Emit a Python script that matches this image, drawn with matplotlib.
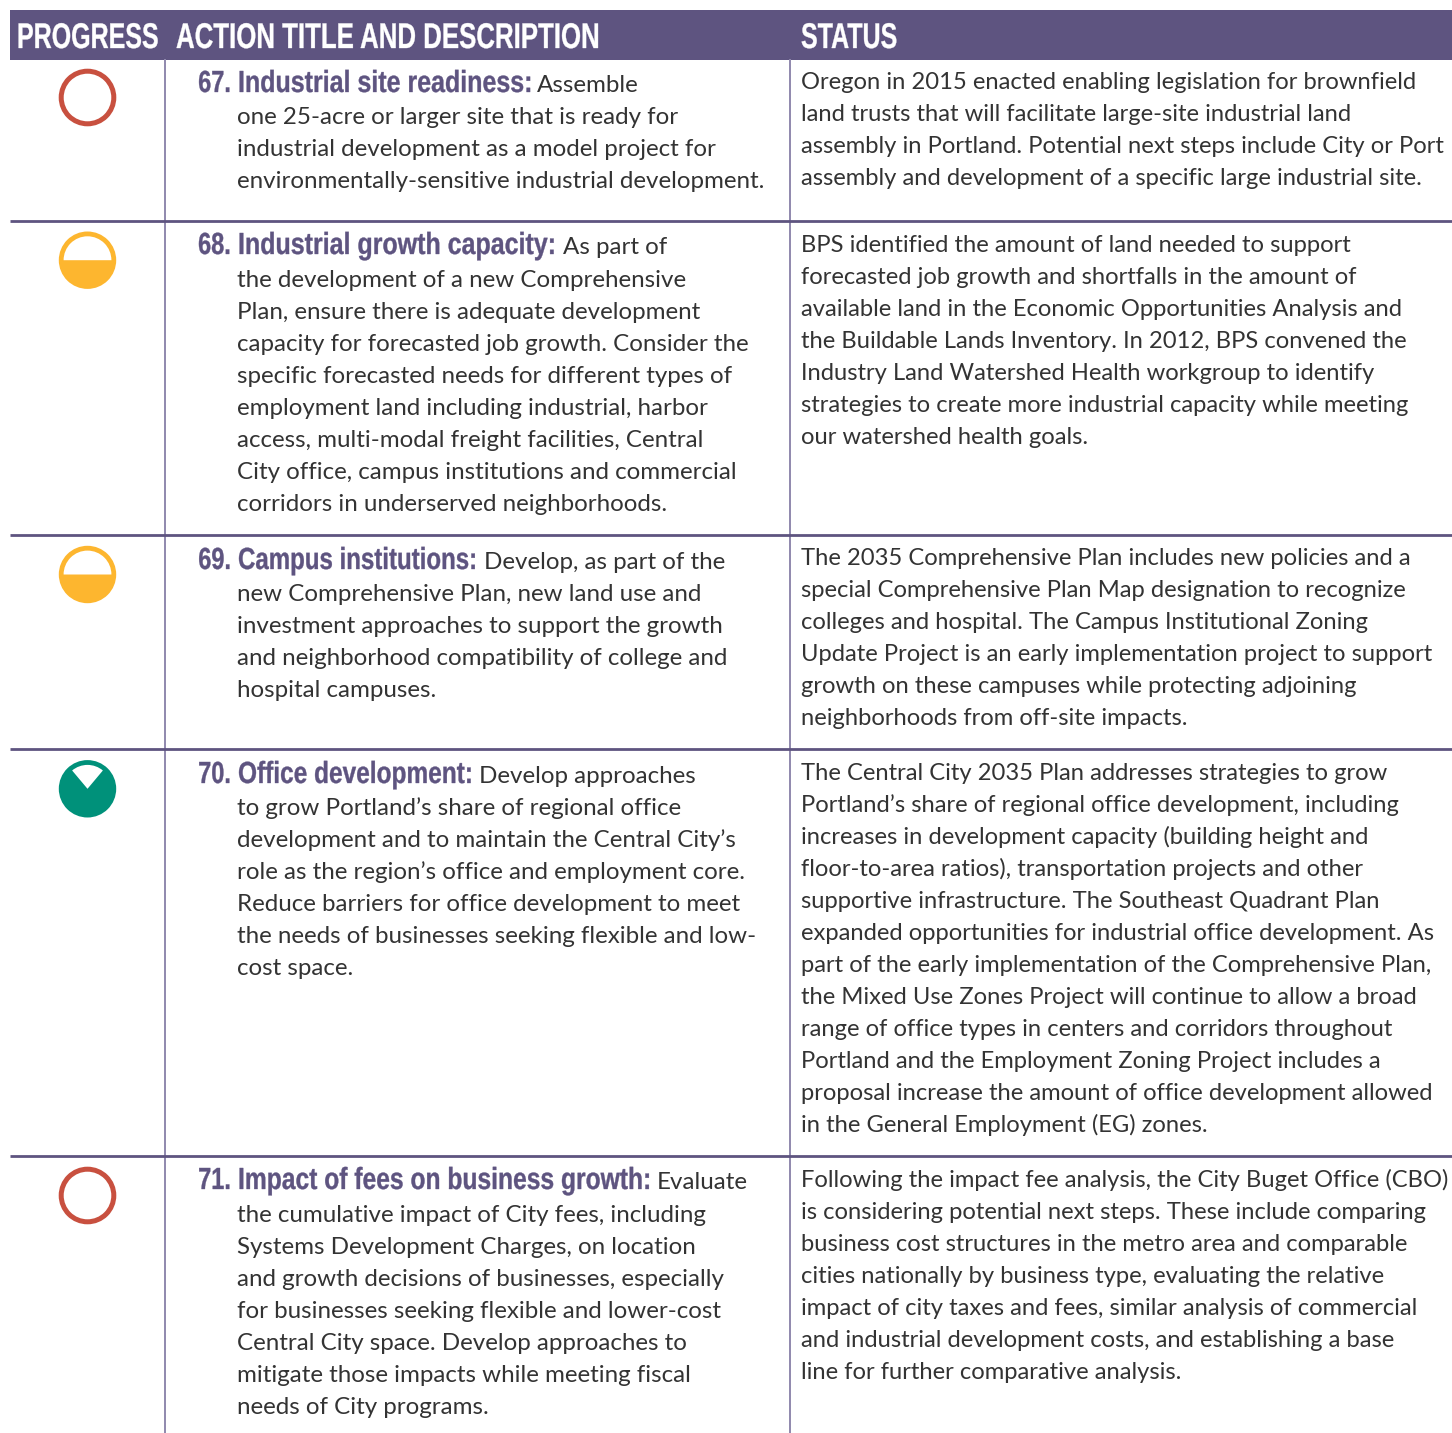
"""Progress table: industrial land actions, drawn on a pixel grid."""

import matplotlib
matplotlib.use("Agg")
import matplotlib.pyplot as plt
from matplotlib.patches import Circle, Rectangle, Wedge
from matplotlib.patheffects import AbstractPathEffect
from matplotlib.text import Text
from matplotlib.transforms import Affine2D, Bbox

W, H = 1452, 1433
PURPLE = "#5E5480"
RULE = "#8F88AD"
TEXT = "#333333"
BODY_FONT = ["Lato", "DejaVu Sans"]
HEAD_FONT = ["Liberation Sans", "DejaVu Sans"]

HEADERS = ["PROGRESS", "ACTION TITLE AND DESCRIPTION", "STATUS"]
NUMBERS = ["67.", "68.", "69.", "70.", "71."]
TITLES = [
    "Industrial site readiness:",
    "Industrial growth capacity:",
    "Campus institutions:",
    "Office development:",
    "Impact of fees on business growth:",
]
# share of the circle that is filled, by row
PROGRESS = ["none", "half", "half", "most", "none"]
LEAD_INS = ["Assemble", "As part of", "Develop, as part of the", "Develop approaches", "Evaluate"]
DESCRIPTIONS = [
    ["one 25-acre or larger site that is ready for",
     "industrial development as a model project for",
     "environmentally-sensitive industrial development."],
    ["the development of a new Comprehensive",
     "Plan, ensure there is adequate development",
     "capacity for forecasted job growth. Consider the",
     "specific forecasted needs for different types of",
     "employment land including industrial, harbor",
     "access, multi-modal freight facilities, Central",
     "City office, campus institutions and commercial",
     "corridors in underserved neighborhoods."],
    ["new Comprehensive Plan, new land use and",
     "investment approaches to support the growth",
     "and neighborhood compatibility of college and",
     "hospital campuses."],
    ["to grow Portland\u2019s share of regional office",
     "development and to maintain the Central City\u2019s",
     "role as the region\u2019s office and employment core.",
     "Reduce barriers for office development to meet",
     "the needs of businesses seeking flexible and low-",
     "cost space."],
    ["the cumulative impact of City fees, including",
     "Systems Development Charges, on location",
     "and growth decisions of businesses, especially",
     "for businesses seeking flexible and lower-cost",
     "Central City space. Develop approaches to",
     "mitigate those impacts while meeting fiscal",
     "needs of City programs."],
]
STATUS = [
    ["Oregon in 2015 enacted enabling legislation for brownfield",
     "land trusts that will facilitate large-site industrial land",
     "assembly in Portland. Potential next steps include City or Port",
     "assembly and development of a specific large industrial site."],
    ["BPS identified the amount of land needed to support",
     "forecasted job growth and shortfalls in the amount of",
     "available land in the Economic Opportunities Analysis and",
     "the Buildable Lands Inventory. In 2012, BPS convened the",
     "Industry Land Watershed Health workgroup to identify",
     "strategies to create more industrial capacity while meeting",
     "our watershed health goals."],
    ["The 2035 Comprehensive Plan includes new policies and a",
     "special Comprehensive Plan Map designation to recognize",
     "colleges and hospital. The Campus Institutional Zoning",
     "Update Project is an early implementation project to support",
     "growth on these campuses while protecting adjoining",
     "neighborhoods from off-site impacts."],
    ["The Central City 2035 Plan addresses strategies to grow",
     "Portland\u2019s share of regional office development, including",
     "increases in development capacity (building height and",
     "floor-to-area ratios), transportation projects and other",
     "supportive infrastructure. The Southeast Quadrant Plan",
     "expanded opportunities for industrial office development. As",
     "part of the early implementation of the Comprehensive Plan,",
     "the Mixed Use Zones Project will continue to allow a broad",
     "range of office types in centers and corridors throughout",
     "Portland and the Employment Zoning Project includes a",
     "proposal increase the amount of office development allowed",
     "in the General Employment (EG) zones."],
    ["Following the impact fee analysis, the City Buget Office (CBO)",
     "is considering potential next steps. These include comparing",
     "business cost structures in the metro area and comparable",
     "cities nationally by business type, evaluating the relative",
     "impact of city taxes and fees, similar analysis of commercial",
     "and industrial development costs, and establishing a base",
     "line for further comparative analysis."],
]

# layout, in reference pixels
HEADER_X = [17, 176, 801]
HEADER_SQUEEZE = [0.70, 0.7235, 0.70]
TITLE_SQUEEZE = [0.818, 0.818, 0.787, 0.80, 0.806]
ROW_RULES = [221, 535, 749, 1156]
COL_RULES = [165, 790]
TITLE_Y = [92, 254, 569, 783, 1189]
LEAD_X = [537, 563, 484, 479, 657]
DESC_Y = [124, 287, 601, 815, 1222]
STATUS_Y = [89, 252, 565, 780, 1187]
ICON_Y = [97.5, 260.2, 574.5, 788.8, 1195.5]
LINE = 32
FS_BODY = 17.4
FS_STATUS = 17.1
FS_HEAD = 25.7
FS_TITLE = 22


class Squeeze(AbstractPathEffect):
    """Narrow a text's outline about its anchor; no condensed font is installed."""

    def __init__(self, text):
        super().__init__()
        self.text = text

    def draw_path(self, renderer, gc, tpath, affine, rgbFace=None):
        x0 = self.text.anchor_px()
        narrow = Affine2D().translate(-x0, 0).scale(self.text.squeeze, 1).translate(x0, 0)
        # thin stroke puts back the stem weight lost by narrowing
        gc0 = renderer.new_gc()
        gc0.copy_properties(gc)
        gc0.set_foreground(rgbFace)
        gc0.set_linewidth(0.25)
        renderer.draw_path(gc0, tpath, affine + narrow, rgbFace)
        gc0.restore()


class NarrowText(Text):
    def __init__(self, x, y, s, squeeze, **kwargs):
        super().__init__(x, y, s, **kwargs)
        self.squeeze = squeeze
        self.set_path_effects([Squeeze(self)])

    def anchor_px(self):
        return self.get_transform().transform(self.get_unitless_position())[0]

    def get_window_extent(self, renderer=None, dpi=None):
        box = super().get_window_extent(renderer, dpi)
        x0 = self.anchor_px()
        return Bbox.from_extents(x0 + (box.x0 - x0) * self.squeeze, box.y0,
                                 x0 + (box.x1 - x0) * self.squeeze, box.y1)


def narrow_text(ax, x, y, s, squeeze, **kwargs):
    t = NarrowText(x, y, s, squeeze, transform=ax.transData, fontweight="bold",
                   family=HEAD_FONT, va="baseline", **kwargs)
    ax.add_artist(t)
    return t


def draw_icon(ax, y, kind):
    x, r = 87.5, 28.7
    if kind == "none":
        ax.add_patch(Circle((x, y), r - 2.4, fc="white", ec="#C8503F", lw=3.6))
    elif kind == "half":
        ax.add_patch(Circle((x, y), r, fc="#FDB62F", ec="none"))
        # y axis points down, so this wedge is the upper half
        ax.add_patch(Wedge((x, y), r - 4.8, 180, 360, fc="white", ec="none"))
    else:
        ax.add_patch(Circle((x, y), r, fc="#00917A", ec="none"))
        ax.add_patch(Wedge((x, y), r - 4.8, 230, 310, fc="white", ec="none"))


def main():
    fig = plt.figure(figsize=(W / 100, H / 100), dpi=100, facecolor="white")
    ax = fig.add_axes([0, 0, 1, 1])
    ax.set_xlim(0, W)
    ax.set_ylim(H, 0)
    ax.axis("off")

    ax.add_patch(Rectangle((10, 10), W - 10, 49.5, fc=PURPLE, ec="none"))
    for x, label, squeeze in zip(HEADER_X, HEADERS, HEADER_SQUEEZE):
        narrow_text(ax, x, 48, label, squeeze, color="white", fontsize=FS_HEAD)

    for x in COL_RULES:
        ax.plot([x, x], [59, H], color=RULE, lw=1.4, solid_capstyle="butt")
    for y in ROW_RULES:
        ax.plot([10, W], [y, y], color=PURPLE, lw=2.0, solid_capstyle="butt")

    for i, number in enumerate(NUMBERS):
        draw_icon(ax, ICON_Y[i], PROGRESS[i])
        narrow_text(ax, 231, TITLE_Y[i], number, 0.77, color=PURPLE, fontsize=FS_TITLE, ha="right")
        narrow_text(ax, 238, TITLE_Y[i], TITLES[i], TITLE_SQUEEZE[i], color=PURPLE, fontsize=FS_TITLE)
        ax.text(LEAD_X[i], TITLE_Y[i], LEAD_INS[i], color=TEXT, fontsize=FS_BODY,
                family=BODY_FONT, va="baseline")
        for j, line in enumerate(DESCRIPTIONS[i]):
            ax.text(237, DESC_Y[i] + j * LINE, line, color=TEXT, fontsize=FS_BODY,
                    family=BODY_FONT, va="baseline")
        for j, line in enumerate(STATUS[i]):
            ax.text(801, STATUS_Y[i] + j * LINE, line, color=TEXT, fontsize=FS_STATUS,
                    family=BODY_FONT, va="baseline")

    fig.savefig("out.png", dpi=100)
    plt.close(fig)


if __name__ == "__main__":
    main()
